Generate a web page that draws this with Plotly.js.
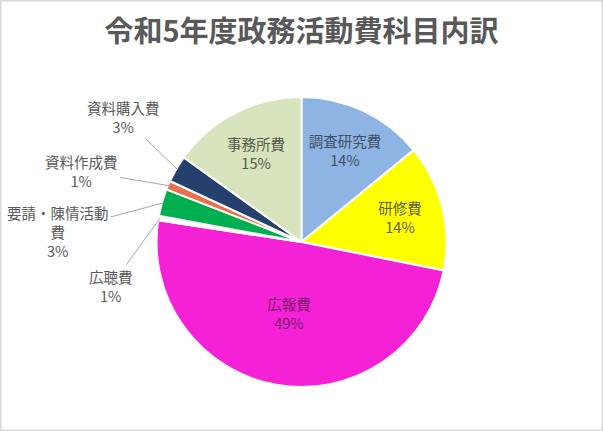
<!DOCTYPE html>
<html>
<head>
<meta charset="utf-8">
<script src="https://cdn.plot.ly/plotly-3.0.1.min.js"></script>
<style>
  html, body { margin: 0; padding: 0; background: #fff; }
  #chart { width: 603px; height: 431px; }
</style>
</head>
<body>
<div id="chart"></div>
<script>
// Data (clockwise from the top)
const categories = ['調査研究費', '研修費', '広報費', '広聴費', '要請・陳情活動費', '資料作成費', '資料購入費', '事務所費'];
const amounts = [14, 14, 49, 0.5, 3, 1, 3, 15];
const sliceColors = ['#8DB4E2', '#FFFF00', '#F521D6', '#FFFFFF', '#00B050', '#E8704F', '#25406C', '#D7E4BD'];
// label ink on each slice (the labels look see-through in the original)
const labelInk = ['#3F4E66', '#5E5E3C', '#7A1C6E', '#595959', '#595959', '#595959', '#595959', '#555B4A'];
// slices small enough to get an outside label with a leader line
const outsideLabels = ['広聴費', '要請・陳情活動費', '資料作成費', '資料購入費'];

const W = 603, H = 431;
const pieTop = 97, pieBottom = 387;
const cx = W / 2, cy = (pieTop + pieBottom) / 2, R = (pieBottom - pieTop) / 2;
const FONT = '"Noto Sans CJK JP", sans-serif';

const total = amounts.reduce((a, b) => a + b, 0);

// where the outside label text sits (pixel centres) and how it's broken
const labelPos = {
    '資料購入費': { x: 123, y: 117, text: '資料購入費' },
    '資料作成費': { x: 82, y: 171, text: '資料作成費' },
    '要請・陳情活動費': { x: 58, y: 231, text: '要請・陳情活動<br>費' },
    '広聴費': { x: 111, y: 286, text: '広聴費' },
};

const annotations = [];
let cum = 0;
categories.forEach((cat, i) => {
    const v = amounts[i];
    const mid = (cum + v / 2) / total * 2 * Math.PI;
    cum += v;
    if (!outsideLabels.includes(cat)) return;
    // point on slice edge
    const px = cx + R * 0.99 * Math.sin(mid);
    const py = cy - R * 0.99 * Math.cos(mid);
    const lp = labelPos[cat];
    annotations.push({
        x: px / W,
        y: 1 - py / H,
        xref: 'paper',
        yref: 'paper',
        ax: lp.x - px,
        ay: lp.y - py,
        axref: 'pixel',
        ayref: 'pixel',
        text: lp.text + '<br>' + Math.round(v / total * 100) + '%',
        showarrow: true,
        arrowhead: 0,
        arrowwidth: 1,
        arrowcolor: '#A6A6A6',
        standoff: 0,
        font: { family: FONT, size: 14.5, color: '#595959' },
        align: 'center',
    });
});

const trace = {
    type: 'pie',
    labels: categories,
    values: amounts,
    sort: false,
    direction: 'clockwise',
    rotation: 0,
    marker: {
        colors: sliceColors,
        line: { color: '#FFFFFF', width: 2 },
    },
    texttemplate: categories.map(c => outsideLabels.includes(c) ? '' : '%{label}<br>%{percent:.0%}'),
    textposition: categories.map(c => outsideLabels.includes(c) ? 'none' : 'inside'),
    insidetextorientation: 'horizontal',
    insidetextfont: { family: FONT, size: 14.5, color: labelInk },
    hoverinfo: 'label+percent',
    domain: { x: [0, 1], y: [(H - pieBottom) / H, (H - pieTop) / H] },
    showlegend: false,
};

const layout = {
    width: W,
    height: H,
    title: {
        text: '令和5年度政務活動費科目内訳',
        x: 0.5,
        xanchor: 'center',
        y: 1 - 32 / H,
        yanchor: 'middle',
        yref: 'container',
        font: { family: FONT, size: 29, color: '#595959', weight: 'bold' },
    },
    margin: { t: 0, l: 0, r: 0, b: 0 },
    paper_bgcolor: '#FFFFFF',
    annotations: annotations,
    shapes: [{
        type: 'rect', xref: 'paper', yref: 'paper',
        x0: 0, x1: 1, y0: 0, y1: 1,
        line: { color: '#D9D9D9', width: 3 },
    }],
};

Plotly.newPlot('chart', [trace], layout, { displayModeBar: false, staticPlot: true });
</script>
</body>
</html>
